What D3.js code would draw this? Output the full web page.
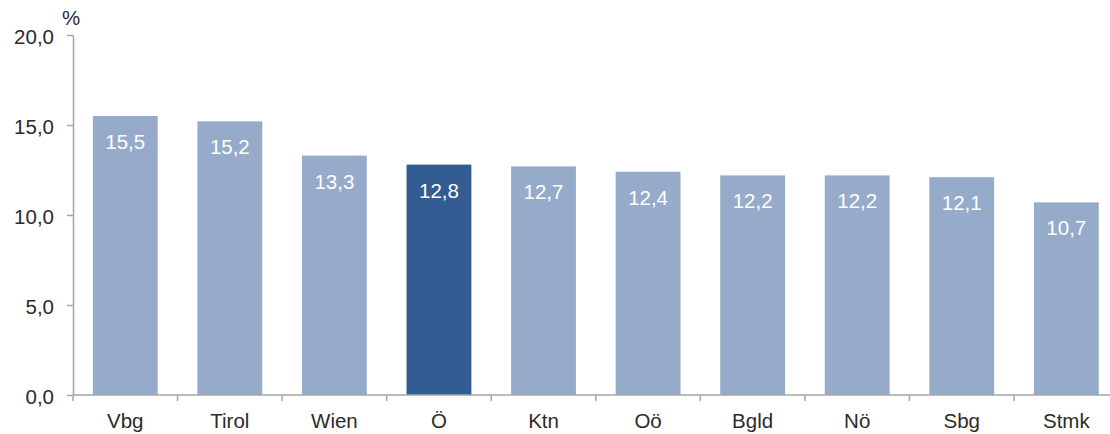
<!DOCTYPE html>
<html><head><meta charset="utf-8">
<script src="https://cdn.jsdelivr.net/npm/d3@7/dist/d3.min.js"></script>
<style>body{margin:0;background:#fff}svg{display:block}text{font-family:"Liberation Sans",Arial,sans-serif}</style>
</head><body><svg id="c" width="1110" height="434"></svg>
<script>
const categories = ["Vbg","Tirol","Wien","Ö","Ktn","Oö","Bgld","Nö","Sbg","Stmk"];
const values = [15.5,15.2,13.3,12.8,12.7,12.4,12.2,12.2,12.1,10.7];
const highlight = ["Ö"];
const yTicks = [0,5,10,15,20];
const fmt = v => v.toFixed(1).replace(".", ",");

const svg = d3.select("#c");
const x0 = 73, step = 104.56;
const x = d3.scaleBand().domain(categories).range([x0, x0 + step*categories.length]).paddingInner(0.38).paddingOuter(0.19);
const y = d3.scaleLinear().domain([0,20]).range([395,35]);
const axisColor = "#a6a6a6";
const textColor = "#2b2b2b";

svg.selectAll("rect.bar").data(categories).enter().append("rect")
  .attr("x", d => x(d)).attr("width", x.bandwidth())
  .attr("y", (d,i) => y(values[i])).attr("height", (d,i) => y(0) - y(values[i]))
  .attr("fill", d => highlight.includes(d) ? "#335c93" : "#95abc9");

svg.selectAll("text.val").data(categories).enter().append("text")
  .attr("x", d => x(d) + x.bandwidth()/2).attr("y", (d,i) => y(values[i]) + 33)
  .attr("text-anchor","middle").attr("fill","#fff").attr("font-size",20.5)
  .text((d,i) => fmt(values[i]));

const ya = svg.append("g").attr("transform",`translate(${x0},0)`)
  .call(d3.axisLeft(y).tickValues(yTicks).tickSize(6).tickSizeOuter(0).tickFormat(fmt).tickPadding(13));
ya.select(".domain").attr("stroke",axisColor).attr("stroke-width",1.5);
ya.selectAll(".tick line").attr("stroke",axisColor).attr("stroke-width",1.5);
ya.selectAll(".tick text").attr("font-size",20.5).attr("fill",textColor).attr("font-family","Liberation Sans, Arial, sans-serif").attr("dy","0.4em");

const boundaries = d3.range(categories.length + 1).map(i => x0 + i*step);
const xa = svg.append("g").attr("transform",`translate(0,${y(0)})`);
xa.append("line").attr("x1",x0).attr("x2",boundaries[boundaries.length-1]).attr("stroke",axisColor).attr("stroke-width",1.5);
xa.selectAll("line.tk").data(boundaries).enter().append("line")
  .attr("x1",d=>d).attr("x2",d=>d).attr("y1",0).attr("y2",6).attr("stroke",axisColor).attr("stroke-width",1.5);
xa.selectAll("text").data(categories).enter().append("text")
  .attr("x", d => x(d) + x.bandwidth()/2).attr("y", 33)
  .attr("text-anchor","middle").attr("fill",textColor).attr("font-size",20.5).text(d => d);

svg.append("text").attr("x",71).attr("y",25).attr("text-anchor","middle").attr("font-size",20.5).attr("fill",textColor).text("%");
</script></body></html>
